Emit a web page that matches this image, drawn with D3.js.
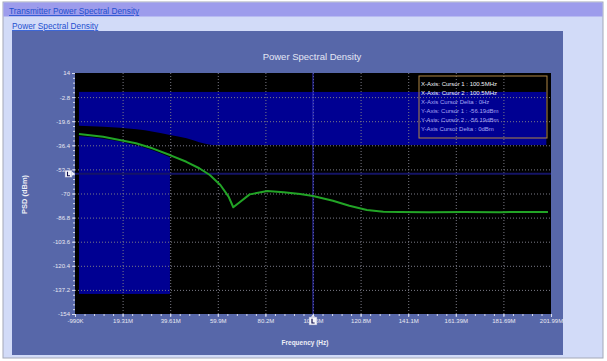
<!DOCTYPE html>
<html>
<head>
<meta charset="utf-8">
<script src="https://cdn.jsdelivr.net/npm/d3@7"></script>
<style>
  body { margin: 0; background: #fff; }
  svg { display: block; font-family: "Liberation Sans", Arial, sans-serif; }
</style>
</head>
<body>
<svg id="chart" width="607" height="361"></svg>
<script>
// axis ticks (MHz / dBm)
var xTicks = [-0.99, 19.31, 39.61, 59.9, 80.2, 100.5, 120.8, 141.1, 161.39, 181.69, 201.99];
var xTickLabels = ["-990K", "19.31M", "39.61M", "59.9M", "80.2M", "100.5M", "120.8M", "141.1M", "161.39M", "181.69M", "201.99M"];
var yTicks = [14, -2.8, -19.6, -36.4, -53.2, -70, -86.8, -103.6, -120.4, -137.2, -154];
var yTickLabels = ["14", "-2.8", "-19.6", "-36.4", "-53.2", "-70", "-86.8", "-103.6", "-120.4", "-137.2", "-154"];

// measured PSD trace
var freqMHz = [0.7, 11, 18, 25, 32, 39.5, 46.5, 52, 56.5, 61, 64.5, 66.5, 69.5, 73.5, 81, 88, 95, 100.5, 109, 116, 123.5, 130.5, 137.5, 150, 165, 180, 200.7];
var psdDbm = [-28.5, -30.4, -32.7, -35.0, -38.5, -43.2, -47.9, -52.4, -57.1, -64.1, -72.2, -79.6, -75.7, -70.6, -68.3, -69.2, -70.4, -71.7, -75.0, -78.5, -81.5, -82.7, -82.9, -83.0, -82.9, -83.0, -82.9];

// mask regions
var bandFreq = [0.7, 200];
var bandDbm = [0.8, -36.2];
var lowFreq = [0.7, 39.5];
var lowDbm = [0.8, -140];
// cleared wedge above the trace
var clearFreq = [0.4, 11.1, 25.3, 32.4, 39.5, 46.6, 53.7, 57.4];
var clearTop = [-22.7, -23.4, -25.2, -26.9, -29.2, -31.5, -35.0, -36.2];
var clearBottom = [-30, -31.8, -36.5, -40, -44.7, -49.4, -55, -59];

// cursors
var cursorFreq = 100.5;
var cursorDbm = -56.19;
var cursorText = ["X-Axis: Cursor 1 : 100.5MHz", "X-Axis: Cursor 2 : 100.5MHz", "X-Axis Cursor Delta : 0Hz",
                  "Y-Axis: Cursor 1 : -56.19dBm", "Y-Axis: Cursor 2 : -56.19dBm", "Y-Axis Cursor Delta : 0dBm"];

var svg = d3.select("#chart");

// page frame
svg.append("rect").attr("x", 3).attr("y", 2).attr("width", 600).attr("height", 356)
   .attr("fill", "#d2dbf8").attr("stroke", "#a4a8b8");
svg.append("rect").attr("x", 3.5).attr("y", 2.5).attr("width", 599).attr("height", 14)
   .attr("fill", "#9d9cec");
svg.append("text").attr("x", 9).attr("y", 14).attr("font-size", "8.3px").attr("fill", "#1f4fcf")
   .attr("text-decoration", "underline").text("Transmitter Power Spectral Density");
svg.append("text").attr("x", 12).attr("y", 29).attr("font-size", "8.3px").attr("fill", "#1f4fcf")
   .attr("text-decoration", "underline").text("Power Spectral Density");
svg.append("rect").attr("x", 12).attr("y", 31).attr("width", 551).attr("height", 324)
   .attr("fill", "#5767a9");

svg.append("text").attr("x", 312).attr("y", 60).attr("text-anchor", "middle")
   .attr("font-size", "9.5px").attr("fill", "#e4e6f4").text("Power Spectral Density");

var plotLeft = 75, plotTop = 73, plotW = 476, plotH = 241;
var g = svg.append("g").attr("transform", "translate(" + plotLeft + "," + plotTop + ")");

var x = d3.scaleLinear().domain([xTicks[0], xTicks[xTicks.length - 1]]).range([0, plotW]);
var y = d3.scaleLinear().domain([yTicks[yTicks.length - 1], yTicks[0]]).range([plotH, 0]);

g.append("rect").attr("width", plotW).attr("height", plotH).attr("fill", "#000");

// mask rectangles
g.append("rect")
  .attr("x", x(bandFreq[0])).attr("y", y(bandDbm[0]))
  .attr("width", x(bandFreq[1]) - x(bandFreq[0])).attr("height", y(bandDbm[1]) - y(bandDbm[0]))
  .attr("fill", "#000092");
g.append("rect")
  .attr("x", x(lowFreq[0])).attr("y", y(lowDbm[0]))
  .attr("width", x(lowFreq[1]) - x(lowFreq[0])).attr("height", y(lowDbm[1]) - y(lowDbm[0]))
  .attr("fill", "#000092");

var clearData = clearFreq.map(function(f, i) { return {f: f, t: clearTop[i], b: clearBottom[i]}; });
g.append("path").datum(clearData)
  .attr("fill", "#000")
  .attr("d", d3.area().curve(d3.curveMonotoneX)
     .x(function(d) { return x(d.f); })
     .y0(function(d) { return y(d.b); })
     .y1(function(d) { return y(d.t); }));

// grid
var step = (xTicks[1] - xTicks[0]) / 5;
var xMinor = d3.range(0, 51).map(function(i) { return xTicks[0] + i * step; });
var yStep = (yTicks[0] - yTicks[1]) / 5;
var yMinor = d3.range(0, 51).map(function(i) { return yTicks[yTicks.length - 1] + i * yStep; });

g.append("g").attr("class", "grid")
  .call(d3.axisBottom(x).tickValues(xTicks.slice(1, -1)).tickSize(plotH).tickFormat(""))
  .call(function(s) { s.select(".domain").remove(); })
  .selectAll("line").attr("stroke", "#7a7a86").attr("stroke-dasharray", "1,2");
g.append("g").attr("class", "grid")
  .call(d3.axisLeft(y).tickValues(yTicks.slice(1, -1)).tickSize(-plotW).tickFormat(""))
  .call(function(s) { s.select(".domain").remove(); })
  .selectAll("line").attr("stroke", "#7a7a86").attr("stroke-dasharray", "1,2");

// cursor lines
g.append("line").attr("x1", 0).attr("x2", plotW)
  .attr("y1", y(cursorDbm)).attr("y2", y(cursorDbm))
  .attr("stroke", "#141466").attr("stroke-width", 2);
g.append("line").attr("x1", x(cursorFreq)).attr("x2", x(cursorFreq))
  .attr("y1", 0).attr("y2", plotH)
  .attr("stroke", "#3434c4").attr("stroke-width", 1);

// PSD trace
var line = d3.line()
  .x(function(d, i) { return x(freqMHz[i]); })
  .y(function(d) { return y(d); });
g.append("path").datum(psdDbm)
  .attr("fill", "none")
  .attr("stroke", "#22a426")
  .attr("stroke-width", 2)
  .attr("stroke-linejoin", "round")
  .attr("d", line);

// cursor readout
var lg = svg.append("g").attr("transform", "translate(419,76)");
lg.append("rect").attr("width", 128).attr("height", 62)
  .attr("fill", "none").attr("stroke", "#b08644").attr("stroke-width", 1);
lg.selectAll("text").data(cursorText).enter().append("text")
  .attr("x", 2).attr("y", function(d, i) { return 9.5 + i * 9; })
  .attr("font-size", "6px")
  .attr("fill", function(d, i) { return i < 2 ? "#f2f2f8" : "#a6a6f4"; })
  .text(function(d) { return d; });

// axes
var xAxis = g.append("g").attr("transform", "translate(0," + plotH + ")")
  .call(d3.axisBottom(x).tickValues(xTicks).tickSize(3).tickPadding(2)
        .tickFormat(function(d, i) { return xTickLabels[i]; }));
xAxis.select(".domain").remove();
xAxis.selectAll("line").attr("stroke", "#d8dcee");
xAxis.selectAll("text").attr("fill", "#e8e8f2").attr("font-size", "6px").attr("font-family", "Liberation Sans, Arial, sans-serif");
var xMin = g.append("g").attr("transform", "translate(0," + plotH + ")")
  .call(d3.axisBottom(x).tickValues(xMinor).tickSize(2).tickFormat(""));
xMin.select(".domain").remove();
xMin.selectAll("line").attr("stroke", "#d8dcee");

var yAxis = g.append("g")
  .call(d3.axisLeft(y).tickValues(yTicks).tickSize(3).tickPadding(2)
        .tickFormat(function(d, i) { return yTickLabels[i]; }));
yAxis.select(".domain").remove();
yAxis.selectAll("line").attr("stroke", "#d8dcee");
yAxis.selectAll("text").attr("fill", "#e8e8f2").attr("font-size", "6px").attr("font-family", "Liberation Sans, Arial, sans-serif");
var yMin = g.append("g")
  .call(d3.axisLeft(y).tickValues(yMinor).tickSize(2).tickFormat(""));
yMin.select(".domain").remove();
yMin.selectAll("line").attr("stroke", "#d8dcee");

// cursor markers (small "L" flags, glyph drawn as a path)
var ym = plotTop + y(cursorDbm);
var lm = svg.append("g").attr("transform", "translate(" + (plotLeft - 10) + "," + (ym - 3.5) + ")");
lm.append("rect").attr("width", 7).attr("height", 7).attr("fill", "#f4f4fa").attr("stroke", "#8088b8").attr("stroke-width", 0.5);
lm.append("path").attr("d", "M7,1.5L10,3.5L7,5.5Z").attr("fill", "#f4f4fa");
lm.append("path").attr("d", "M2.5,1.5V5.5H5").attr("fill", "none").attr("stroke", "#101050").attr("stroke-width", 1.1);
var xm = plotLeft + x(cursorFreq);
var bm = svg.append("g").attr("transform", "translate(" + (xm - 4) + "," + (plotTop + plotH + 3) + ")");
bm.append("path").attr("d", "M2,0L4,-2.5L6,0Z").attr("fill", "#f4f4fa");
bm.append("rect").attr("width", 8).attr("height", 8).attr("fill", "#f4f4fa").attr("stroke", "#8088b8").attr("stroke-width", 0.5);
bm.append("path").attr("d", "M3,1.8V6H5.6").attr("fill", "none").attr("stroke", "#101050").attr("stroke-width", 1.2);

// axis titles
svg.append("text").attr("x", plotLeft + plotW / 2 - 8).attr("y", 345).attr("text-anchor", "middle")
  .attr("font-size", "6.5px").attr("font-weight", "bold").attr("fill", "#eeeef6").text("Frequency (Hz)");
svg.append("text").attr("transform", "translate(27," + (plotTop + plotH / 2 + 1) + ") rotate(-90)")
  .attr("text-anchor", "middle").attr("font-size", "7.5px").attr("font-weight", "bold")
  .attr("fill", "#eeeef6").text("PSD (dBm)");
</script>
</body>
</html>
